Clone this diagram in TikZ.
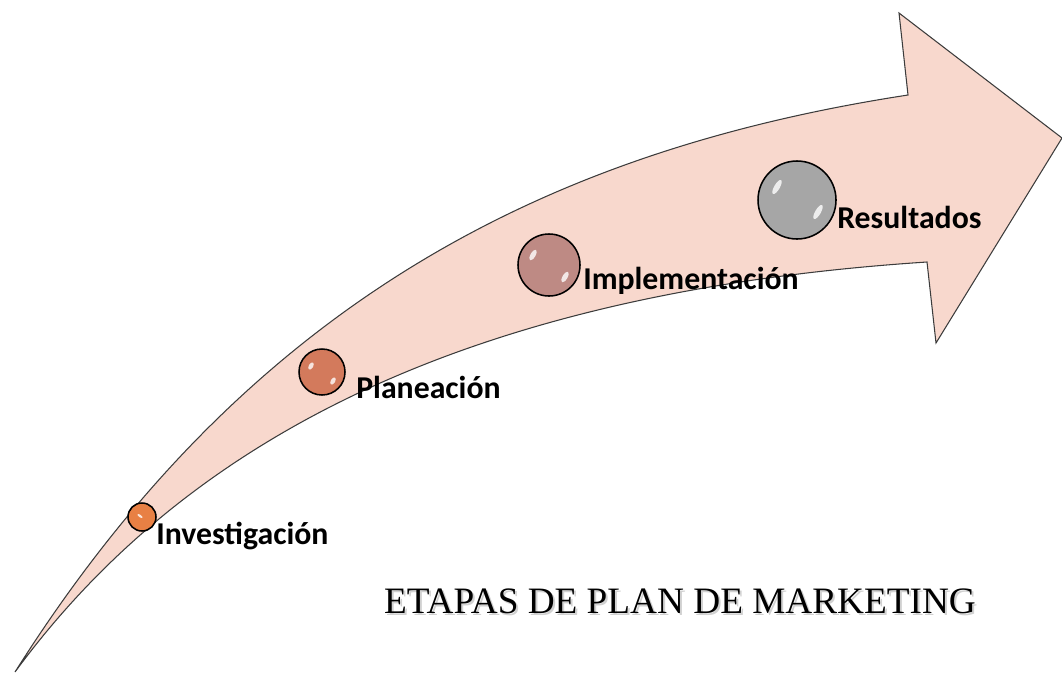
\documentclass[tikz,border=0pt]{standalone}
\usepackage{fontspec}
\setmainfont{Liberation Serif}
\newfontfamily\lblfont{Carlito}
\definecolor{arrowfill}{RGB}{248,216,205}
\definecolor{arrowline}{RGB}{60,60,60}
\definecolor{c1}{RGB}{232,128,68}
\definecolor{c2}{RGB}{211,122,92}
\definecolor{c3}{RGB}{190,138,132}
\definecolor{c4}{RGB}{166,166,166}
\tikzset{
  ball/.style={circle, draw=black, line width=1.1pt, minimum size=#1, inner sep=0pt},
  lbl/.style={anchor=west, inner sep=0pt, font=\lblfont\bfseries\fontsize{22.6}{26}\selectfont},
  hl/.style={fill=white, opacity=0.8}
}
\begin{document}
\begin{tikzpicture}[x=0.025cm, y=-0.025cm]
\useasboundingbox (0,0) rectangle (1062,679);
% curved arrow
\path[fill=arrowfill, draw=arrowline, line width=0.75pt, line join=miter]
  (15,672) .. controls (250,300) and (550,150) .. (908,95)
  -- (899,13) -- (1062,138) -- (936,343) -- (927,262)
  .. controls (500,290) and (200,420) .. (15,672) -- cycle;
% stage balls
\node[ball=28*0.025cm, fill=c1] (b1) at (142,517) {};
\node[ball=46*0.025cm, fill=c2] (b2) at (322,372) {};
\node[ball=62*0.025cm, fill=c3] (b3) at (549,265) {};
\node[ball=78*0.025cm, fill=c4] (b4) at (797,200) {};
% highlights
\fill[hl, rotate around={-35:(140,516)}] (140,516) ellipse (3 and 1.2);
\fill[hl, rotate around={60:(311,366)}] (311,366) ellipse (4 and 2.2);
\fill[hl, rotate around={60:(333,381)}] (333,381) ellipse (4 and 2.2);
\fill[hl, rotate around={60:(533,255)}] (533,255) ellipse (6 and 2.5);
\fill[hl, rotate around={60:(565,277)}] (565,277) ellipse (6 and 2.5);
\fill[hl, rotate around={60:(777,187)}] (777,187) ellipse (8 and 2.8);
\fill[hl, rotate around={60:(818,212)}] (818,212) ellipse (8 and 2.8);
% labels
\node[lbl] (t1) at (156,536) {Investigación};
\node[lbl] (t2) at (356,387) {Planeación};
\node[lbl] (t3) at (583,281) {Implementación};
\node[lbl] (t4) at (837,217) {Resultados};
% title
\node[inner sep=0pt, font=\fontsize{26.5}{30}\selectfont, text=gray!60, opacity=0.6] (shadow) at (682,603) {ETAPAS DE PLAN DE MARKETING};
\node[inner sep=0pt, font=\fontsize{26.5}{30}\selectfont] (title) at (680,601) {ETAPAS DE PLAN DE MARKETING};
\end{tikzpicture}
\end{document}
